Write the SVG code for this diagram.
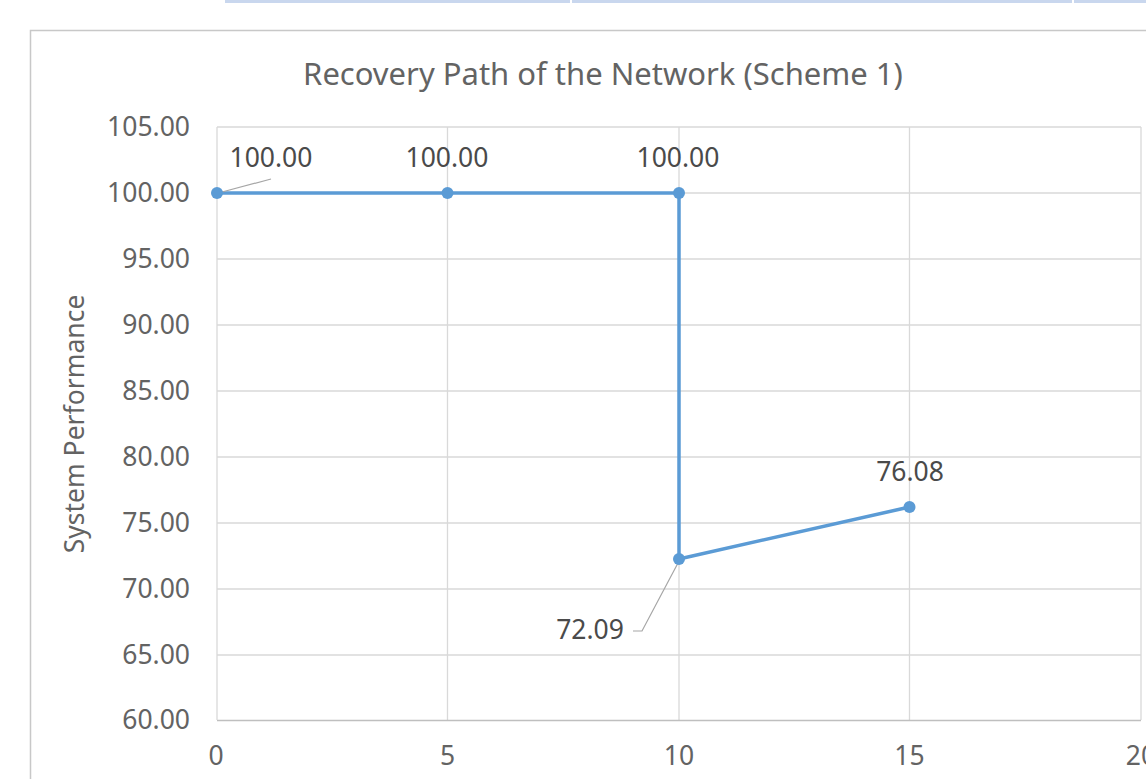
<svg xmlns="http://www.w3.org/2000/svg" width="1146" height="779" viewBox="0 0 1146 779">
<style>
.grid{stroke:#d9d9d9;stroke-width:1.3;fill:none}
.axis{stroke:#bfbfbf;stroke-width:1.5;fill:none}
.tick{font-family:"Noto Sans","Open Sans",sans-serif;font-size:26.5px;fill:#636363}
.lbl{font-family:"Noto Sans","Open Sans",sans-serif;font-size:26.5px;fill:#4a4a4a}
.title{font-family:"Noto Sans","Open Sans",sans-serif;font-size:31px;fill:#636363}
.series{stroke:#5b9bd5;stroke-width:3.5;fill:none;stroke-linejoin:round}
.pt{fill:#5b9bd5}
.leader{stroke:#a6a6a6;stroke-width:1.2;fill:none}
</style>
<rect width="1146" height="779" fill="#ffffff"/>
<g id="tabs">
<rect x="225" y="0" width="921" height="3" fill="#c9d7ee"/>
<rect x="570" y="0" width="2" height="3" fill="#ffffff"/>
<rect x="1072" y="0" width="2" height="3" fill="#ffffff"/>
</g>
<g id="chart-frame">
<path d="M30.5,779 V30.5 H1146" fill="none" stroke="#c8c8c8" stroke-width="1.5"/>
</g>
<g id="title"><text class="title" x="603" y="85" text-anchor="middle">Recovery Path of the Network (Scheme 1)</text></g>
<g id="gridlines">
<path class="grid" d="M217,127H1141M217,193H1141M217,259H1141M217,325H1141M217,391H1141M217,457H1141M217,523H1141M217,589H1141M217,655H1141"/>
<path class="grid" d="M447.5,127V720M679,127V720M909.5,127V720M1141,127V720"/>
<path class="axis" d="M217,720.5H1141"/>
<path class="grid" d="M217,127V720"/>
</g>
<g id="y-axis">
<text class="tick" x="190" y="136" text-anchor="end">105.00</text>
<text class="tick" x="190" y="202" text-anchor="end">100.00</text>
<text class="tick" x="190" y="268" text-anchor="end">95.00</text>
<text class="tick" x="190" y="334" text-anchor="end">90.00</text>
<text class="tick" x="190" y="400" text-anchor="end">85.00</text>
<text class="tick" x="190" y="466" text-anchor="end">80.00</text>
<text class="tick" x="190" y="532" text-anchor="end">75.00</text>
<text class="tick" x="190" y="598" text-anchor="end">70.00</text>
<text class="tick" x="190" y="664" text-anchor="end">65.00</text>
<text class="tick" x="190" y="729" text-anchor="end">60.00</text>
<text class="tick" x="0" y="0" font-size="22" text-anchor="middle" transform="translate(84,424) rotate(-90)">System Performance</text>
</g>
<g id="x-axis">
<text class="tick" x="216" y="765" text-anchor="middle">0</text>
<text class="tick" x="447.5" y="765" text-anchor="middle">5</text>
<text class="tick" x="679" y="765" text-anchor="middle">10</text>
<text class="tick" x="909.5" y="765" text-anchor="middle">15</text>
<text class="tick" x="1141" y="765" text-anchor="middle">20</text>
</g>
<g id="connectors">
<polyline class="series" points="217,193 447.5,193 679,193 679,559 909.5,507"/>
<path class="leader" d="M222,192L271,179"/>
<path class="leader" d="M678,563L642,631H633"/>
</g>
<g id="p0"><circle class="pt" cx="217" cy="193" r="6"/><text class="lbl" x="271" y="167" text-anchor="middle">100.00</text></g>
<g id="p5"><circle class="pt" cx="447.5" cy="193" r="6"/><text class="lbl" x="447" y="167" text-anchor="middle">100.00</text></g>
<g id="p10a"><circle class="pt" cx="679" cy="193" r="6"/><text class="lbl" x="678" y="167" text-anchor="middle">100.00</text></g>
<g id="p10b"><circle class="pt" cx="679" cy="559" r="6"/><text class="lbl" x="590" y="639" text-anchor="middle">72.09</text></g>
<g id="p15"><circle class="pt" cx="909.5" cy="507" r="6"/><text class="lbl" x="910" y="481" text-anchor="middle">76.08</text></g>
</svg>
